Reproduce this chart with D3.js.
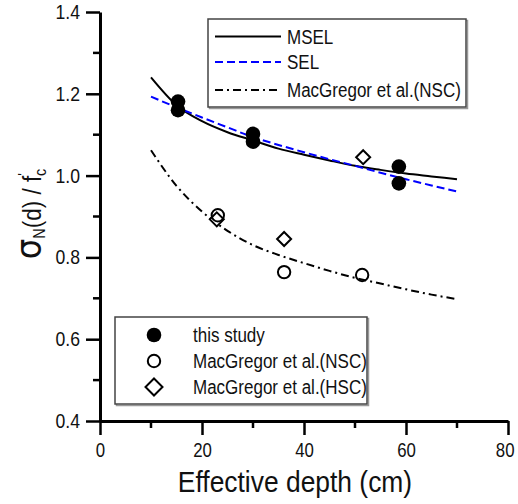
<!DOCTYPE html>
<html><head><meta charset="utf-8">
<script src="https://cdn.jsdelivr.net/npm/d3@7"></script>
<style>
body{margin:0;background:#fff}
text{font-family:"Liberation Sans",Arial,sans-serif;fill:#111}
</style>
</head><body>
<svg id="chart" width="518" height="504"></svg>
<script>
// ---- data ----
const curveX = [10,15,20,25,30,35,40,45,50,55,60,65,70];
const mselY  = [1.240,1.172,1.133,1.106,1.086,1.066,1.051,1.037,1.024,1.014,1.005,0.998,0.991];
const selY   = [1.193,1.167,1.142,1.118,1.094,1.075,1.057,1.040,1.024,1.007,0.991,0.976,0.961];
const nscFitY= [1.062,0.975,0.912,0.865,0.830,0.806,0.786,0.767,0.750,0.736,0.722,0.709,0.698];
const studyX = [15.3,15.3,30.0,30.0,58.6,58.6];
const studyY = [1.181,1.160,1.102,1.083,1.022,0.981];
const nscX   = [23.1,36.1,51.4];
const nscY   = [0.903,0.764,0.757];
const hscX   = [22.9,36.1,51.6];
const hscY   = [0.893,0.845,1.045];
const xTicks = [0,20,40,60,80];
const xMinor = [10,30,50,70];
const yTicks = [0.4,0.6,0.8,1.0,1.2,1.4];
const yMinor = [0.5,0.7,0.9,1.1,1.3];
const lineNames = ["MSEL","SEL","MacGregor et al.(NSC)"];
const markNames = ["this study","MacGregor et al.(NSC)","MacGregor et al.(HSC)"];

const svg = d3.select("#chart");
const x = d3.scaleLinear().domain([0,80]).range([100,508]);
const y = d3.scaleLinear().domain([0.4,1.4]).range([421,12]);

// condense text horizontally (narrow sans look)
function condense(sel, k){
  sel.each(function(){
    const w = this.getComputedTextLength();
    d3.select(this).attr("textLength", w*k).attr("lengthAdjust","spacingAndGlyphs");
  });
}

// axes
const gx = svg.append("g").attr("transform","translate(0,421)")
  .call(d3.axisBottom(x).tickValues(xTicks).tickFormat(d3.format("d")).tickSize(14).tickSizeOuter(0).tickPadding(8));
gx.append("g").selectAll("line").data(xMinor).join("line")
  .attr("x1",d=>x(d)).attr("x2",d=>x(d)).attr("y1",0).attr("y2",7);
const gy = svg.append("g").attr("transform","translate(100,0)")
  .call(d3.axisLeft(y).tickValues(yTicks).tickFormat(d3.format(".1f")).tickSize(14).tickSizeOuter(0).tickPadding(6));
gy.append("g").selectAll("line").data(yMinor).join("line")
  .attr("y1",d=>y(d)).attr("y2",d=>y(d)).attr("x1",0).attr("x2",-7);
[gx,gy].forEach((g,gi)=>{
  g.select(".domain").attr("stroke","#000").attr("stroke-width",3);
  g.selectAll("line").attr("stroke","#000").attr("stroke-width",2.5);
  g.selectAll(".tick text").attr("font-size",20).attr("fill","#111")
    .style("font-family","'Liberation Sans',Arial,sans-serif").call(condense, gi===0?0.84:0.88);
});
// keep the last x label inside the page edge
gx.selectAll(".tick text").filter(d=>+d===80).attr("text-anchor","end").attr("x",6);

// axis titles
svg.append("text").attr("x",295).attr("y",492).attr("text-anchor","middle")
  .attr("font-size",30).text("Effective depth (cm)").call(condense,0.88);
const yt = svg.append("text").attr("transform","translate(41,214) rotate(-90) scale(0.9,1)")
  .attr("text-anchor","middle").attr("font-size",25);
yt.append("tspan").attr("font-size",36).attr("font-family","'DejaVu Sans',sans-serif").text("σ");
yt.append("tspan").attr("font-size",16).attr("dy",4).text("N");
yt.append("tspan").attr("dy",-4).text("(d) / f");
yt.append("tspan").attr("font-size",15).attr("dy",-13).text("'");
yt.append("tspan").attr("font-size",16).attr("dx",-3).attr("dy",18).text("c");

// curves
const line = d3.line().x(d=>x(d[0])).y(d=>y(d[1])).curve(d3.curveMonotoneX);
const series = [
  {vals:mselY, color:"#000", dash:null},
  {vals:selY, color:"#0000ff", dash:"8,4"},
  {vals:nscFitY, color:"#000", dash:"8,4,2,4"}
];
series.forEach(s=>{
  svg.append("path").datum(curveX.map((cx,i)=>[cx,s.vals[i]]))
    .attr("d",line).attr("fill","none").attr("stroke",s.color)
    .attr("stroke-width",2).attr("stroke-dasharray",s.dash);
});

// markers
const diamond = r => `M0,${-r}L${r},0L0,${r}L${-r},0Z`;
svg.append("g").selectAll("path").data(hscX.map((v,i)=>[v,hscY[i]])).join("path")
  .attr("transform",d=>`translate(${x(d[0])},${y(d[1])})`).attr("d",diamond(7))
  .attr("fill","#fff").attr("stroke","#000").attr("stroke-width",2);
svg.append("g").selectAll("circle").data(nscX.map((v,i)=>[v,nscY[i]])).join("circle")
  .attr("cx",d=>x(d[0])).attr("cy",d=>y(d[1])).attr("r",6.2)
  .attr("fill","none").attr("stroke","#000").attr("stroke-width",2);
svg.append("g").selectAll("circle").data(studyX.map((v,i)=>[v,studyY[i]])).join("circle")
  .attr("cx",d=>x(d[0])).attr("cy",d=>y(d[1])).attr("r",7.3).attr("fill","#000");

// legend boxes
function box(x0,y0,w,h){
  svg.append("rect").attr("x",x0+1.5).attr("y",y0+1.5).attr("width",w).attr("height",h)
    .attr("fill","none").attr("stroke","#999").attr("stroke-width",1.5);
  svg.append("rect").attr("x",x0).attr("y",y0).attr("width",w).attr("height",h)
    .attr("fill","#fff").attr("stroke","#444").attr("stroke-width",1.5);
}
// legend 1 (lines)
box(208,19,258,88);
const l1y=[36.5,62,90];
series.forEach((s,i)=>{
  svg.append("line").attr("x1",215).attr("x2",281).attr("y1",l1y[i]).attr("y2",l1y[i])
    .attr("stroke",s.color).attr("stroke-width",2).attr("stroke-dasharray",s.dash);
  svg.append("text").attr("x",287).attr("y",l1y[i]+7).attr("font-size",20).text(lineNames[i]).call(condense,0.85);
});
// legend 2 (markers)
box(115,317,252,87);
const l2y=[335,361,387];
svg.append("circle").attr("cx",154).attr("cy",l2y[0]).attr("r",7.3).attr("fill","#000");
svg.append("circle").attr("cx",154).attr("cy",l2y[1]).attr("r",6.2).attr("fill","none").attr("stroke","#000").attr("stroke-width",2);
svg.append("path").attr("transform",`translate(154,${l2y[2]})`).attr("d",diamond(8.5))
  .attr("fill","none").attr("stroke","#000").attr("stroke-width",2);
markNames.forEach((n,i)=>{
  svg.append("text").attr("x",193).attr("y",l2y[i]+7).attr("font-size",20).text(n).call(condense,0.85);
});
</script>
</body></html>
